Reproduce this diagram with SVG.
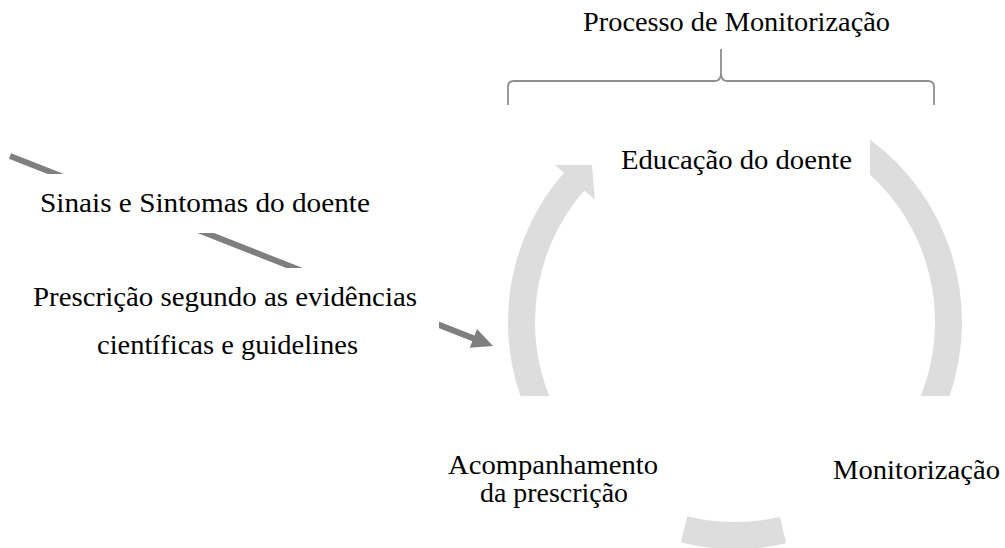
<svg xmlns="http://www.w3.org/2000/svg" width="1005" height="548" viewBox="0 0 1005 548">
<style>
.t{font-family:"Liberation Serif","Times New Roman",serif;font-size:28px;fill:#000}
.ring{fill:#dddddd}
.box{fill:#ffffff}
</style>
<rect width="1005" height="548" fill="#ffffff"/>
<g id="connectors">
<path id="cycle-left" class="ring" d="M520.4,396 A227,227 0 0 1 563.9,172.8 L554.9,164.9 L592,165 L594.8,199.7 L584.3,190.5 A200,200 0 0 0 549.2,396 Z"/>
<path id="cycle-right" class="ring" d="M870,139.5 A227,227 0 0 1 949.6,396 L920.8,396 A200,200 0 0 0 870,174.4 Z"/>
<path id="cycle-bottom" class="ring" d="M687.3,516.2 A200,200 0 0 0 780,516.9 L786.1,543.2 A227,227 0 0 1 680.9,542.4 Z"/>
<polygon id="input-arrow" fill="#7f7f7f" points="8.9,158.8 472.3,341.2 469.8,347.7 493,346 477,329.1 474.5,335.6 11.1,153.2"/>
<path id="brace" fill="none" stroke="#8f8f8f" stroke-width="1.8" d="M508,105 L508,87 Q508,81 514,81 L715,81 Q721,81 721,73 L721,49 M721,73 Q721,81 727,81 L928,81 Q934,81 934,87 L934,105"/>
</g>
<g id="title"><text class="t" x="583" y="31" textLength="307" lengthAdjust="spacingAndGlyphs">Processo de Monitorização</text></g>
<g id="sinais">
<rect class="box" x="0" y="174" width="400" height="59"/>
<text class="t" x="40" y="212" textLength="330" lengthAdjust="spacingAndGlyphs">Sinais e Sintomas do doente</text>
</g>
<g id="prescricao">
<rect class="box" x="20" y="268" width="419" height="100"/>
<text class="t" x="33" y="306" textLength="384" lengthAdjust="spacingAndGlyphs">Prescrição segundo as evidências</text>
<text class="t" x="97" y="354" textLength="261" lengthAdjust="spacingAndGlyphs">científicas e guidelines</text>
</g>
<g id="educacao"><text class="t" x="621" y="169" textLength="231" lengthAdjust="spacingAndGlyphs">Educação do doente</text></g>
<g id="acompanhamento">
<text class="t" x="448" y="474" textLength="210" lengthAdjust="spacingAndGlyphs">Acompanhamento</text>
<text class="t" x="480" y="502" textLength="148" lengthAdjust="spacingAndGlyphs">da prescrição</text>
</g>
<g id="monitorizacao"><text class="t" x="833" y="479" textLength="167" lengthAdjust="spacingAndGlyphs">Monitorização</text></g>
</svg>
